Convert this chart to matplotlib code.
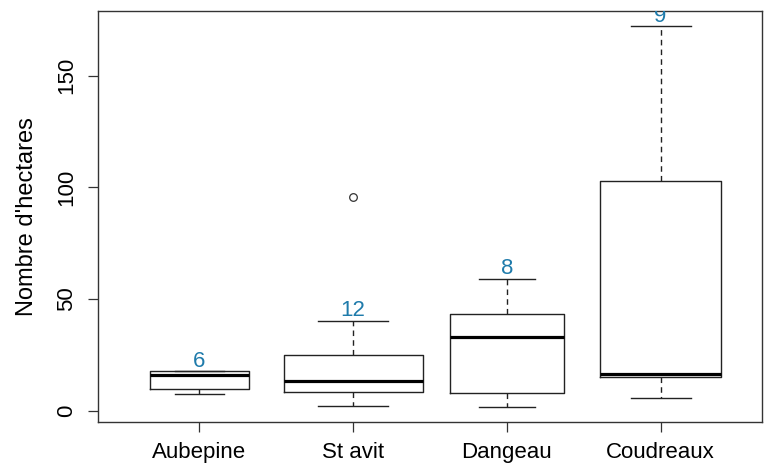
import matplotlib
matplotlib.use("Agg")
import matplotlib.pyplot as plt
import numpy as np

# Values (hectares).
sites = ["Aubepine", "St avit", "Dangeau", "Coudreaux"]
counts = [6, 12, 8, 9]
whisker_lo = [7.6, 2.1, 1.7, 5.5]
q1 = [9.8, 8.1, 7.9, 15.0]
median = [15.8, 13.4, 32.9, 16.2]
q3 = [17.6, 24.7, 43.4, 103.0]
whisker_hi = [17.6, 40.2, 58.9, 172.1]
outliers = [[], [95.8], [], []]
yticks = [0, 50, 100, 150]

plt.rcParams["font.family"] = ["Liberation Sans", "DejaVu Sans"]

fig = plt.figure(figsize=(7.69, 4.65), dpi=100)
ax = fig.add_axes([0.1274, 0.0925, 0.8636, 0.8838])

stats = []
for i, name in enumerate(sites):
    stats.append(dict(label=name, whislo=whisker_lo[i], q1=q1[i], med=median[i],
                      q3=q3[i], whishi=whisker_hi[i], fliers=outliers[i]))

# varwidth-style boxes: width proportional to sqrt(n)
n = np.array(counts, dtype=float)
widths = 0.904 * np.sqrt(n) / np.sqrt(n.max())
pos = np.arange(1, len(sites) + 1)

ax.bxp(stats, positions=pos, widths=widths, capwidths=widths / 2,
       boxprops=dict(color="#222222", linewidth=1.0),
       medianprops=dict(color="black", linewidth=2.3, solid_capstyle="butt"),
       whiskerprops=dict(color="#222222", linewidth=1.0, linestyle=(0, (4, 3))),
       capprops=dict(color="#222222", linewidth=1.0),
       flierprops=dict(marker="o", markersize=5.5, markerfacecolor="none",
                       markeredgecolor="#333333", markeredgewidth=0.9))

# sample sizes above the upper whisker (clipped to the plot region, as in R)
for x, top, c in zip(pos, whisker_hi, counts):
    ax.text(x, top - 0.2, str(c), ha="center", va="bottom", fontsize=16,
            color="#1f7bab", clip_on=True)

lo = min(whisker_lo)
hi = max(whisker_hi + [v for o in outliers for v in o])
ax.set_ylim(lo - 0.04 * (hi - lo), hi + 0.04 * (hi - lo))
ax.set_xlim(0.34, len(sites) + 0.66)

ax.set_yticks(yticks)
ax.set_yticklabels([str(t) for t in yticks], rotation=90, va="center")
ax.set_xticks(pos)
ax.set_xticklabels(sites)
ax.tick_params(axis="both", direction="out", length=7.2, width=0.9,
               color="#333333", labelsize=16)
ax.tick_params(axis="x", pad=7)
ax.tick_params(axis="y", pad=8)
ax.set_ylabel("Nombre d'hectares", fontsize=17, labelpad=13)

for s in ax.spines.values():
    s.set_color("#333333")
    s.set_linewidth(1.0)

fig.savefig("out.png", dpi=100)
